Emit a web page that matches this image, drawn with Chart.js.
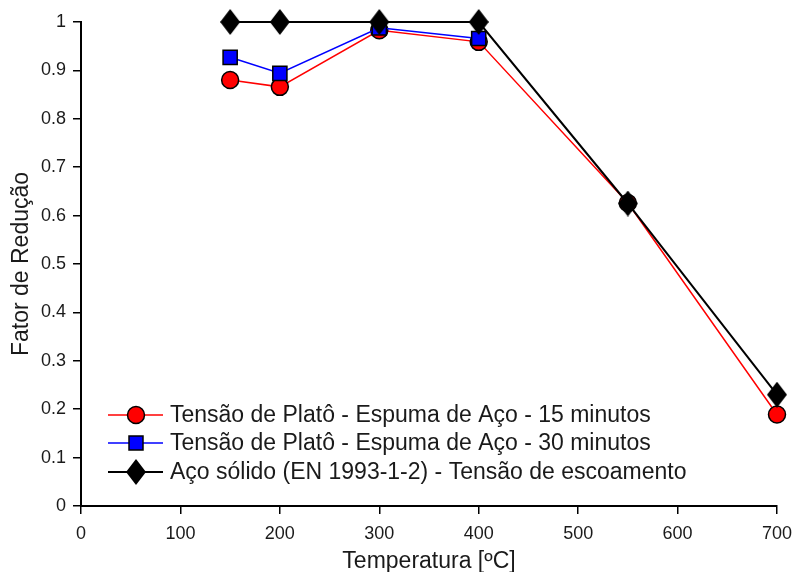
<!DOCTYPE html>
<html><head><meta charset="utf-8">
<script src="https://cdn.jsdelivr.net/npm/chart.js@4/dist/chart.umd.min.js"></script>
<style>html,body{margin:0;padding:0;background:#fff}#wrap{width:792px;height:572px}</style>
</head><body><div id="wrap"><canvas id="c" width="792" height="572"></canvas></div>
<script>
const temps15 = [150, 200, 300, 400, 550, 700];
const vals15 = [0.88, 0.866, 0.983, 0.959, 0.626, 0.189];
const temps30 = [150, 200, 300, 400];
const vals30 = [0.927, 0.894, 0.988, 0.966];
const tempsEN = [150, 200, 300, 400, 550, 700];
const valsEN = [1, 1, 1, 1, 0.625, 0.23];
const labels = [
  'Tensão de Platô - Espuma de Aço - 15 minutos',
  'Tensão de Platô - Espuma de Aço - 30 minutos',
  'Aço sólido (EN 1993-1-2) - Tensão de escoamento'
];
const xTitle = 'Temperatura [ºC]';
const yTitle = 'Fator de Redução';

const FONT = "'Liberation Sans', Arial, sans-serif";

function diamond(w, h) {
  const c = document.createElement('canvas');
  c.width = w; c.height = h;
  const g = c.getContext('2d');
  g.fillStyle = '#000';
  g.beginPath();
  g.moveTo(w/2, 0); g.lineTo(w, h/2); g.lineTo(w/2, h); g.lineTo(0, h/2); g.closePath();
  g.fill();
  return c;
}
const dia = diamond(20, 26);

function pts(xs, ys) { return xs.map((x, i) => ({x: x, y: ys[i]})); }

const legendPlugin = {
  id: 'customLegend',
  afterDraw(chart) {
    const ctx = chart.ctx;
    const rows = [415, 443, 472];
    ctx.save();
    chart.data.datasets.forEach((ds) => {
      const idx = ds.legendIndex;
      const y = rows[idx];
      ctx.strokeStyle = ds.borderColor;
      ctx.lineWidth = ds.borderWidth;
      ctx.beginPath(); ctx.moveTo(108, y); ctx.lineTo(163, y); ctx.stroke();
      if (ds.pointStyle === 'circle') {
        ctx.beginPath(); ctx.arc(136, y, 8.5, 0, Math.PI*2);
        ctx.fillStyle = ds.pointBackgroundColor; ctx.fill();
        ctx.lineWidth = 1.5; ctx.strokeStyle = '#000'; ctx.stroke();
      } else if (ds.pointStyle === 'rect') {
        ctx.fillStyle = ds.pointBackgroundColor;
        ctx.fillRect(129, y-7, 14, 14);
        ctx.lineWidth = 1.5; ctx.strokeStyle = '#000'; ctx.strokeRect(129, y-7, 14, 14);
      } else {
        ctx.drawImage(dia, 136 - dia.width/2, y - dia.height/2);
      }
      ctx.fillStyle = '#1a1a1a';
      ctx.font = '23px ' + FONT;
      ctx.textBaseline = 'middle';
      ctx.textAlign = 'left';
      ctx.fillText(labels[idx], 170, y + 1);
    });
    ctx.restore();
  }
};

const fmt = v => String(+(+v).toFixed(1));

new Chart(document.getElementById('c'), {
  type: 'scatter',
  data: {
    datasets: [
      {
        legendIndex: 2, order: 0, clip: false,
        data: pts(tempsEN, valsEN), showLine: true,
        borderColor: '#000', borderWidth: 2,
        pointStyle: dia, pointRadius: 10, pointHoverRadius: 10
      },
      {
        legendIndex: 1, order: 1, clip: false,
        data: pts(temps30, vals30), showLine: true,
        borderColor: '#0000ff', borderWidth: 1.5,
        pointStyle: 'rect', pointRadius: 10, pointHoverRadius: 10,
        pointBackgroundColor: '#0000ff', pointBorderColor: '#000', pointBorderWidth: 1.5
      },
      {
        legendIndex: 0, order: 2, clip: false,
        data: pts(temps15, vals15), showLine: true,
        borderColor: '#ff0000', borderWidth: 1.5,
        pointStyle: 'circle', pointRadius: 8.5, pointHoverRadius: 8.5,
        pointBackgroundColor: '#ff0000', pointBorderColor: '#000', pointBorderWidth: 1.5
      }
    ]
  },
  options: {
    responsive: false,
    animation: false,
    layout: { padding: { top: 22, right: 15, left: 0, bottom: 0 } },
    plugins: { legend: { display: false }, tooltip: { enabled: false } },
    scales: {
      x: {
        type: 'linear', min: 0, max: 700,
        afterFit: s => { s.height = 66; s.paddingLeft = 0; s.paddingRight = 0; },
        ticks: { stepSize: 100, color: '#1a1a1a', font: { family: FONT, size: 18 }, padding: 9, callback: v => String(v) },
        grid: { drawOnChartArea: false, tickLength: 8, color: '#000', lineWidth: 1.5 },
        border: { color: '#000', width: 2 },
        title: { display: true, text: xTitle, color: '#1a1a1a', font: { family: FONT, size: 23 }, padding: { top: 0, bottom: -3 } }
      },
      y: {
        type: 'linear', min: 0, max: 1,
        afterFit: s => { s.width = 81; s.paddingTop = 0; s.paddingBottom = 0; },
        ticks: { stepSize: 0.1, color: '#1a1a1a', font: { family: FONT, size: 18 }, padding: 7, callback: fmt },
        grid: { drawOnChartArea: false, tickLength: 8, color: '#000', lineWidth: 1.5 },
        border: { color: '#000', width: 2 },
        title: { display: true, text: yTitle, color: '#1a1a1a', font: { family: FONT, size: 23 }, padding: { top: 8, bottom: 0 } }
      }
    }
  },
  plugins: [legendPlugin]
});
</script>
</body></html>
